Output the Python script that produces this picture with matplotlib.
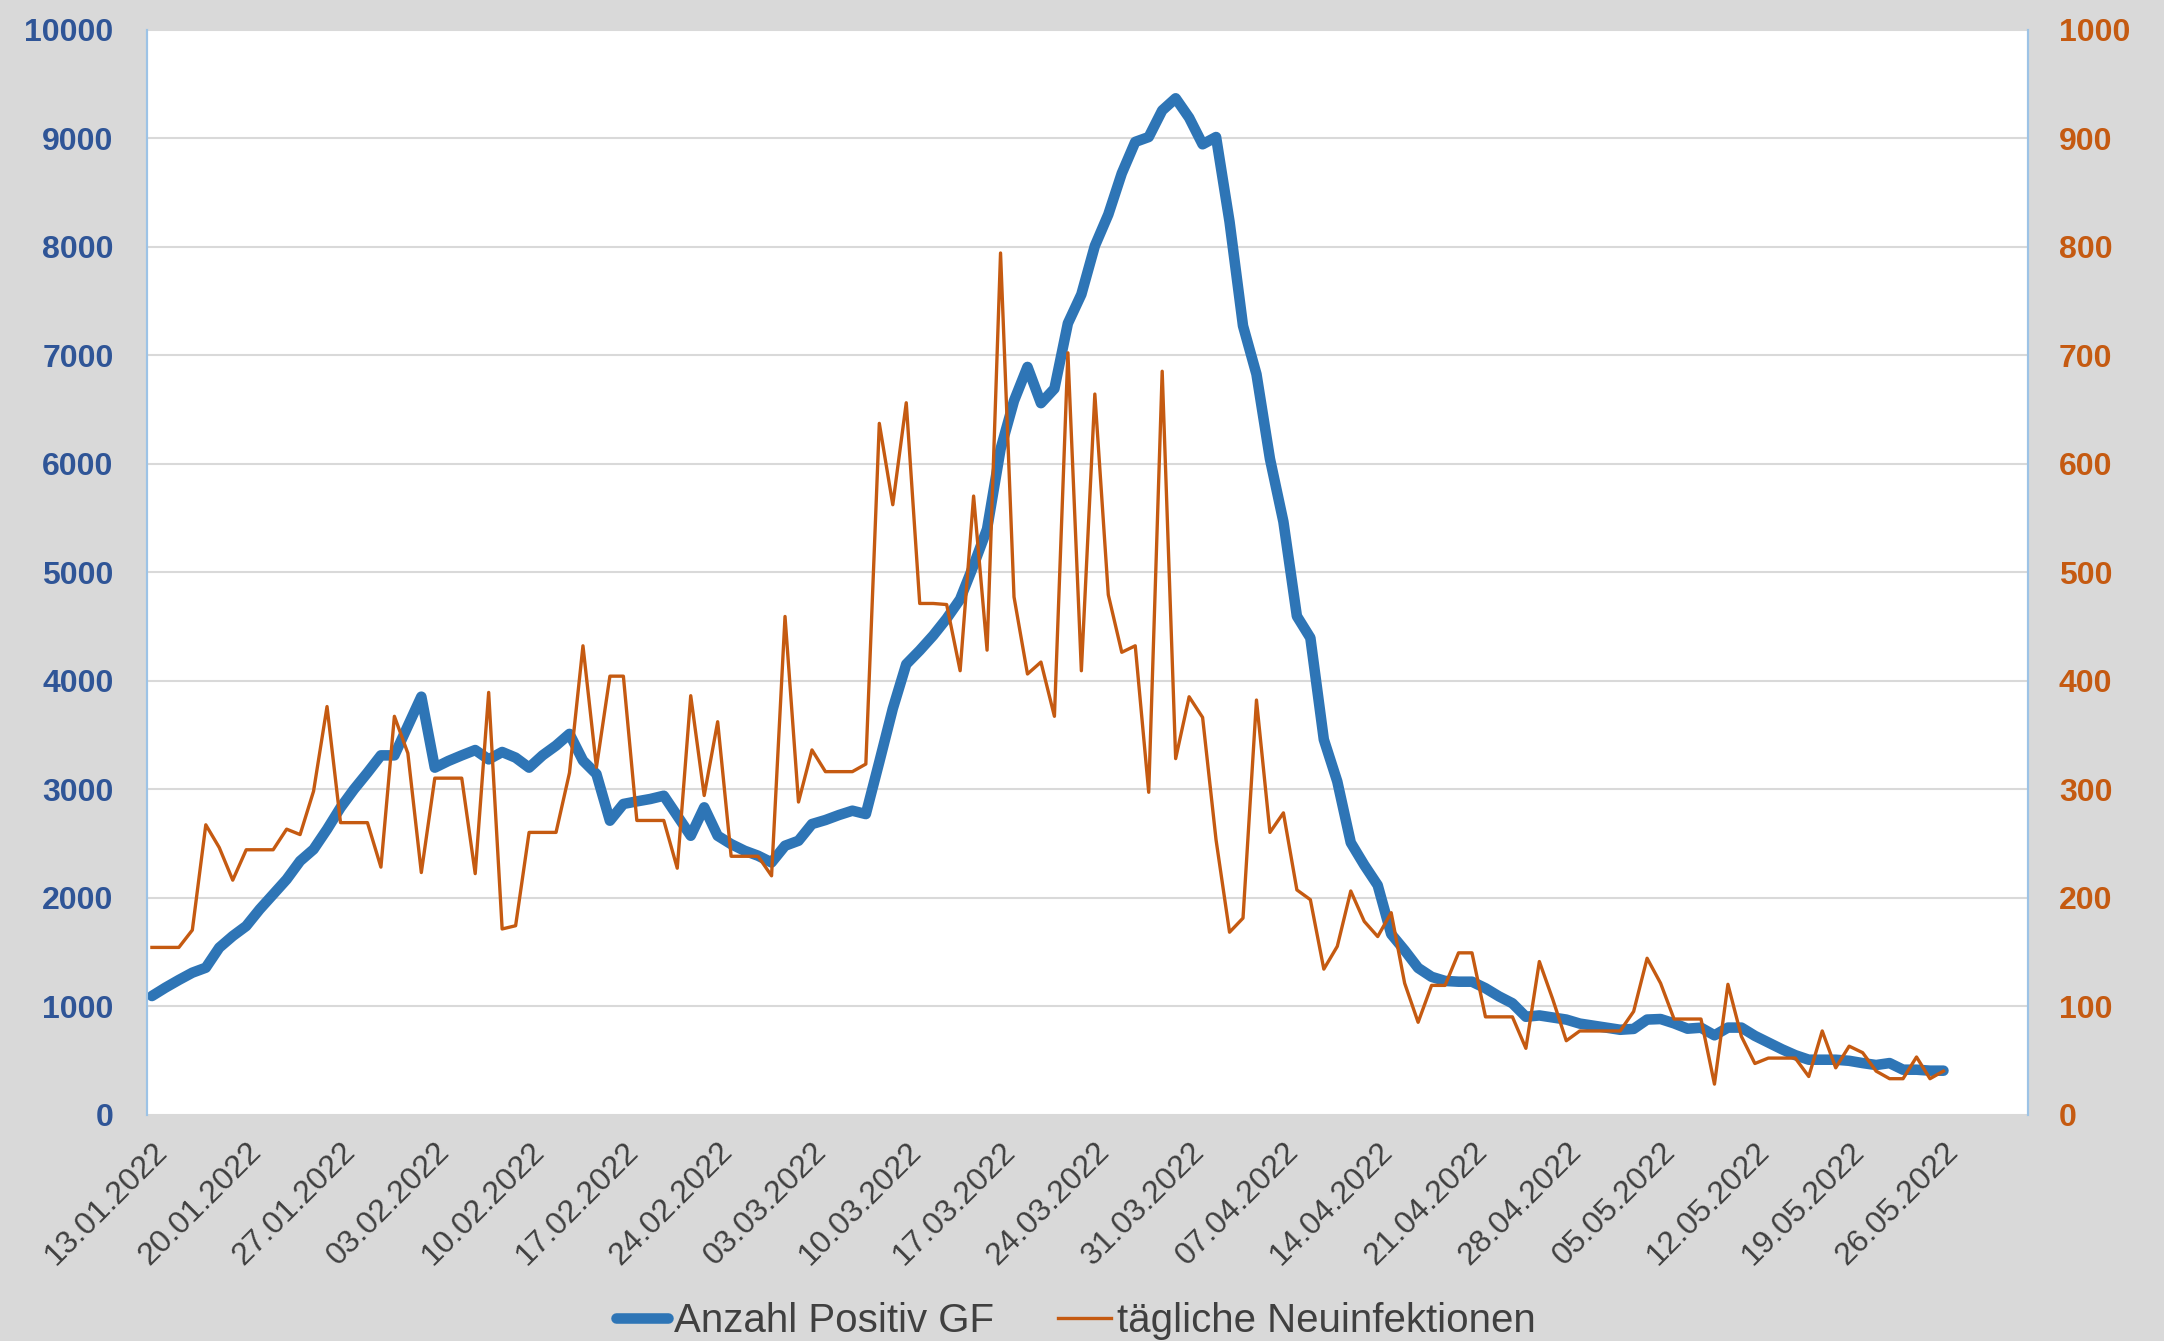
import matplotlib.pyplot as plt
import matplotlib.transforms as mtransforms
import numpy as np

# daily values, first day 13.01.2022
positiv_gf = [1092, 1169, 1240, 1307, 1353, 1538, 1645, 1737, 1891, 2029,
              2167, 2336, 2444, 2628, 2828, 2997, 3150, 3310, 3310, 3580,
              3851, 3197, 3258, 3310, 3359, 3273, 3341, 3289, 3197, 3310,
              3400, 3508, 3262, 3138, 2708, 2862, 2886, 2908, 2938, 2754,
              2569, 2831, 2569, 2492, 2431, 2385, 2323, 2477, 2523, 2677,
              2714, 2760, 2800, 2769, 3250, 3740, 4150, 4277, 4415, 4571,
              4749, 5062, 5396, 6132, 6578, 6890, 6556, 6690, 7292, 7559,
              8005, 8295, 8674, 8964, 9009, 9254, 9366, 9187, 8942, 9009,
              8228, 7269, 6823, 6043, 5463, 4593, 4393, 3456, 3069, 2506,
              2300, 2113, 1663, 1513, 1351, 1269, 1231, 1224, 1224, 1164,
              1089, 1025, 901, 913, 894, 875, 838, 819, 800, 781,
              789, 875, 880, 840, 791, 800, 730, 801, 801, 725,
              664, 602, 547, 505, 505, 505, 495, 474, 456, 474,
              413, 413, 404, 404]

neuinfektionen = [154, 154, 154, 170, 267, 246, 216, 244, 244, 244,
                  263, 258, 298, 376, 269, 269, 269, 228, 367, 333,
                  223, 310, 310, 310, 222, 389, 171, 174, 260, 260,
                  260, 315, 432, 320, 404, 404, 271, 271, 271, 227,
                  386, 294, 362, 238, 238, 238, 220, 459, 288, 336,
                  316, 316, 316, 323, 637, 562, 656, 471, 471, 470,
                  409, 570, 428, 794, 477, 406, 417, 367, 702, 409,
                  664, 479, 426, 432, 297, 685, 328, 385, 366, 253,
                  168, 181, 382, 260, 278, 207, 198, 134, 155, 206,
                  178, 164, 186, 121, 85, 119, 119, 149, 149, 90,
                  90, 90, 61, 141, 106, 68, 77, 77, 77, 77,
                  95, 144, 121, 88, 88, 88, 28, 120, 72, 47,
                  52, 52, 52, 35, 77, 43, 63, 57, 40, 33,
                  33, 53, 33, 40]

tick_labels = ['13.01.2022', '20.01.2022', '27.01.2022', '03.02.2022', '10.02.2022',
               '17.02.2022', '24.02.2022', '03.03.2022', '10.03.2022', '17.03.2022',
               '24.03.2022', '31.03.2022', '07.04.2022', '14.04.2022', '21.04.2022',
               '28.04.2022', '05.05.2022', '12.05.2022', '19.05.2022', '26.05.2022']
tick_step = 7

blue = '#2E75B6'
orange = '#C55A11'

plt.rcParams['font.family'] = ['Liberation Sans', 'DejaVu Sans']

fig = plt.figure(figsize=(21.64, 13.41), dpi=100, facecolor='#D9D9D9')
ax = fig.add_axes([0.0679, 0.1689, 0.8694, 0.8091])
ax.set_facecolor('white')

x = np.arange(len(positiv_gf))
l1, = ax.plot(x, positiv_gf, color=blue, lw=7.6, solid_joinstyle='round',
              solid_capstyle='round', label='Anzahl Positiv GF', zorder=3)
ax.set_ylim(0, 10000)
ax.set_yticks(np.arange(0, 10001, 1000))
ax.set_xlim(-0.37, 139.3)
ax.grid(axis='y', color='#D9D9D9', lw=1.5)
ax.set_axisbelow(True)

ax2 = ax.twinx()
x2 = np.arange(len(neuinfektionen))
l2, = ax2.plot(x2, neuinfektionen, color=orange, lw=2.4, label='tägliche Neuinfektionen')
ax2.set_ylim(0, 1000)
ax2.set_yticks(np.arange(0, 1001, 100))

ticks = np.arange(0, len(tick_labels) * tick_step, tick_step)
ax.set_xticks(ticks)
ax.set_xticklabels(tick_labels, rotation=45, ha='right', va='top',
                   rotation_mode='anchor', fontsize=23, color='#404040')
shift = mtransforms.ScaledTranslation(-7 / 72, 0, fig.dpi_scale_trans)
for lab in ax.get_xticklabels():
    lab.set_transform(lab.get_transform() + shift)
ax.tick_params(axis='x', length=0, pad=16)
ax.tick_params(axis='y', length=0, pad=24, labelsize=23, labelcolor='#2F5597')
ax2.tick_params(axis='y', length=0, pad=22, labelsize=23, labelcolor=orange)
for lab in ax.get_yticklabels():
    lab.set_fontweight('bold')
for lab in ax2.get_yticklabels():
    lab.set_fontweight('bold')

for a in (ax, ax2):
    for side in ('top', 'bottom'):
        a.spines[side].set_visible(False)
    a.spines['left'].set_color('#9DC3E6')
    a.spines['right'].set_color('#9DC3E6')
    a.spines['left'].set_linewidth(1.5)
    a.spines['right'].set_linewidth(1.5)

fig.legend(handles=[l1, l2], loc='center', bbox_to_anchor=(0.497, 0.015),
           ncol=2, frameon=False, fontsize=29, labelcolor='#404040',
           handlelength=1.3, handletextpad=0.15, columnspacing=1.6)

fig.savefig('out.png', dpi=100, facecolor=fig.get_facecolor())
